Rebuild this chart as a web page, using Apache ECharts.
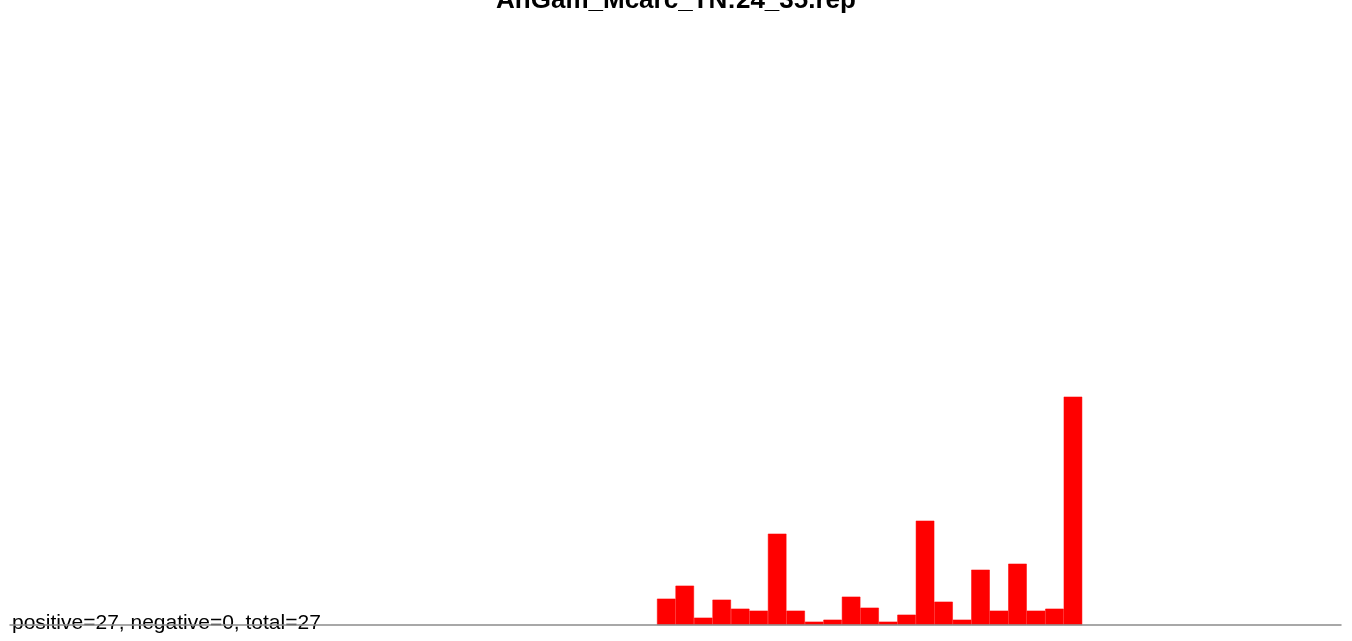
<!DOCTYPE html>
<html>
<head>
<meta charset="utf-8">
<script src="https://cdn.jsdelivr.net/npm/echarts@6/dist/echarts.min.js"></script>
<style>html,body{margin:0;padding:0;background:#fff;}#c{width:1352px;height:641px;}</style>
</head>
<body>
<div id="c"></div>
<script>
const titleText = "AnGam_Mcarc_TN:24_35.rep";
const footerText = "positive=27, negative=0, total=27";
const binCount = 72;
const firstBin = 35;
const barValues = [26.3, 39.3, 7.3, 25.3, 16.3, 14.3, 91.3, 14.3, 3.3, 5.3, 28.3, 17.3, 3.3, 10.3, 104.3, 23.3, 5.3, 55.3, 14.3, 61.3, 14.3, 16.3, 228.3];
const yMax = 600;

const categories = [];
const values = [];
for (let i = 0; i < binCount; i++) {
  categories.push(String(i));
  const k = i - firstBin;
  values.push(k >= 0 && k < barValues.length ? barValues[k] : '-');
}

const chart = echarts.init(document.getElementById('c'), null, {renderer: 'canvas'});
chart.setOption({
  animation: false,
  backgroundColor: '#ffffff',
  title: {
    text: titleText,
    left: 'center',
    top: -17,
    textStyle: {fontFamily: 'Liberation Sans, Arial, sans-serif', fontWeight: 'bold', fontSize: 26, color: '#000'}
  },
  grid: {left: 10, right: 11, top: 25, bottom: 16, containLabel: false},
  xAxis: {
    type: 'category',
    data: categories,
    boundaryGap: true,
    z: 3,
    axisLine: {show: true, lineStyle: {color: '#8c8c8c', width: 1.5}},
    axisTick: {show: false},
    axisLabel: {show: false},
    splitLine: {show: false}
  },
  yAxis: {
    type: 'value',
    min: 0,
    max: yMax,
    show: false
  },
  series: [{
    type: 'bar',
    data: values,
    barCategoryGap: '0%',
    itemStyle: {color: '#ff0000', borderColor: '#ff0000', borderWidth: 0.5},
    silent: true,
    z: 1
  }],
  graphic: [{
    type: 'text',
    left: 12,
    top: 613,
    z: 0,
    style: {text: footerText, fontFamily: 'Liberation Sans, Arial, sans-serif', fontSize: 21, fill: '#000'}
  }]
});
</script>
</body>
</html>
